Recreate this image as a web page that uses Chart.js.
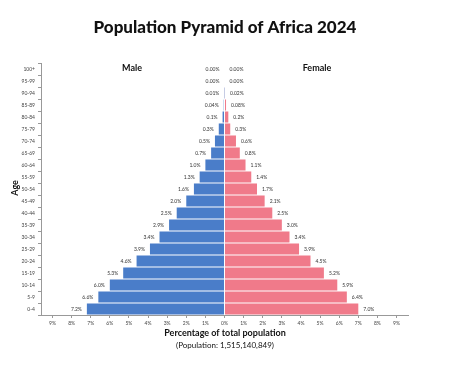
<!DOCTYPE html>
<html>
<head>
<meta charset="utf-8">
<script src="https://cdn.jsdelivr.net/npm/chart.js@4.4.1/dist/chart.umd.min.js"></script>
<style>
  html, body { margin: 0; padding: 0; background: #fff; }
  #wrap { width: 450px; height: 377px; position: relative; }
</style>
</head>
<body>
<div id="wrap"><canvas id="pyramid"></canvas></div>
<script>
const ageGroups = ["100+", "95-99", "90-94", "85-89", "80-84", "75-79", "70-74", "65-69", "60-64", "55-59", "50-54",
  "45-49", "40-44", "35-39", "30-34", "25-29", "20-24", "15-19", "10-14", "5-9", "0-4"];

// percent of total population
const maleValues = [0.00, 0.00, 0.01, 0.04, 0.1, 0.3, 0.5, 0.7, 1.0, 1.3, 1.6, 2.0, 2.5, 2.9, 3.4, 3.9, 4.6, 5.3, 6.0, 6.6, 7.2];
const femaleValues = [0.00, 0.00, 0.02, 0.08, 0.2, 0.3, 0.6, 0.8, 1.1, 1.4, 1.7, 2.1, 2.5, 3.0, 3.4, 3.9, 4.5, 5.2, 5.9, 6.4, 7.0];

// the printed labels beside each bar
const maleLabels = ["0.00%", "0.00%", "0.01%", "0.04%", "0.1%", "0.3%", "0.5%", "0.7%", "1.0%", "1.3%", "1.6%", "2.0%", "2.5%", "2.9%", "3.4%", "3.9%", "4.6%", "5.3%", "6.0%", "6.6%", "7.2%"];
const femaleLabels = ["0.00%", "0.00%", "0.02%", "0.08%", "0.2%", "0.3%", "0.6%", "0.8%", "1.1%", "1.4%", "1.7%", "2.1%", "2.5%", "3.0%", "3.4%", "3.9%", "4.5%", "5.2%", "5.9%", "6.4%", "7.0%"];

const xTicks = [-9, -8, -7, -6, -5, -4, -3, -2, -1, 0, 1, 2, 3, 4, 5, 6, 7, 8, 9];

const FONT = "Lato, 'Open Sans', sans-serif";

// text around the chart + value labels
const extras = {
  id: "extras",
  afterDatasetsDraw(chart) {
    const ctx = chart.ctx;
    const xs = chart.scales.x;
    const zero = xs.getPixelForValue(0);
    ctx.save();
    ctx.textBaseline = "middle";
    ctx.fillStyle = "#333";
    ctx.font = "5px " + FONT;
    chart.getDatasetMeta(0).data.forEach((bar, i) => {
      ctx.textAlign = "right";
      ctx.fillText(maleLabels[i], Math.min(bar.x, zero) - 5, bar.y);
    });
    chart.getDatasetMeta(1).data.forEach((bar, i) => {
      ctx.textAlign = "left";
      ctx.fillText(femaleLabels[i], Math.max(bar.x, zero) + 5, bar.y);
    });

    ctx.fillStyle = "#111";
    ctx.textAlign = "center";
    ctx.font = "900 17px " + FONT;
    ctx.fillText("Population Pyramid of Africa 2024", 225, 28);
    ctx.font = "bold 9px " + FONT;
    ctx.fillText("Male", 132, 68);
    ctx.fillText("Female", 317, 68);
    ctx.fillText("Percentage of total population", 225, 333);
    ctx.font = "8px " + FONT;
    ctx.fillText("(Population: 1,515,140,849)", 225, 345);

    ctx.translate(15, 188);
    ctx.rotate(-Math.PI / 2);
    ctx.font = "bold 9px " + FONT;
    ctx.fillText("Age", 0, 0);
    ctx.restore();
  }
};

new Chart("pyramid", {
  type: "bar",
  data: {
    labels: ageGroups,
    datasets: [
      {
        label: "Male",
        data: maleValues.map(v => -v),
        backgroundColor: "#4a7dc9",
        barPercentage: 1,
        categoryPercentage: 0.92
      },
      {
        label: "Female",
        data: femaleValues,
        backgroundColor: "#f07a8a",
        barPercentage: 1,
        categoryPercentage: 0.92
      }
    ]
  },
  plugins: [extras],
  options: {
    indexAxis: "y",
    responsive: true,
    maintainAspectRatio: false,
    animation: false,
    layout: { padding: { left: 0, top: 63, right: 42, bottom: 0 } },
    plugins: {
      legend: { display: false },
      title: { display: false },
      tooltip: { enabled: false }
    },
    scales: {
      x: {
        stacked: true,
        min: -9.6,
        max: 9.6,
        afterBuildTicks: s => { s.ticks = xTicks.map(v => ({ value: v })); },
        afterFit: s => { s.height = 62; },
        ticks: {
          callback: v => Math.abs(v) + "%",
          font: { size: 5, family: FONT },
          color: "#444",
          padding: 2,
          maxRotation: 0
        },
        grid: { drawOnChartArea: false, tickLength: 3, color: "#999" },
        border: { color: "#999" }
      },
      y: {
        stacked: true,
        afterFit: s => { s.width = 41; },
        ticks: {
          font: { size: 5, family: FONT },
          color: "#444",
          padding: 3
        },
        grid: { drawOnChartArea: false, tickLength: 3, color: "#999" },
        border: { color: "#999" }
      }
    }
  }
});
</script>
</body>
</html>
